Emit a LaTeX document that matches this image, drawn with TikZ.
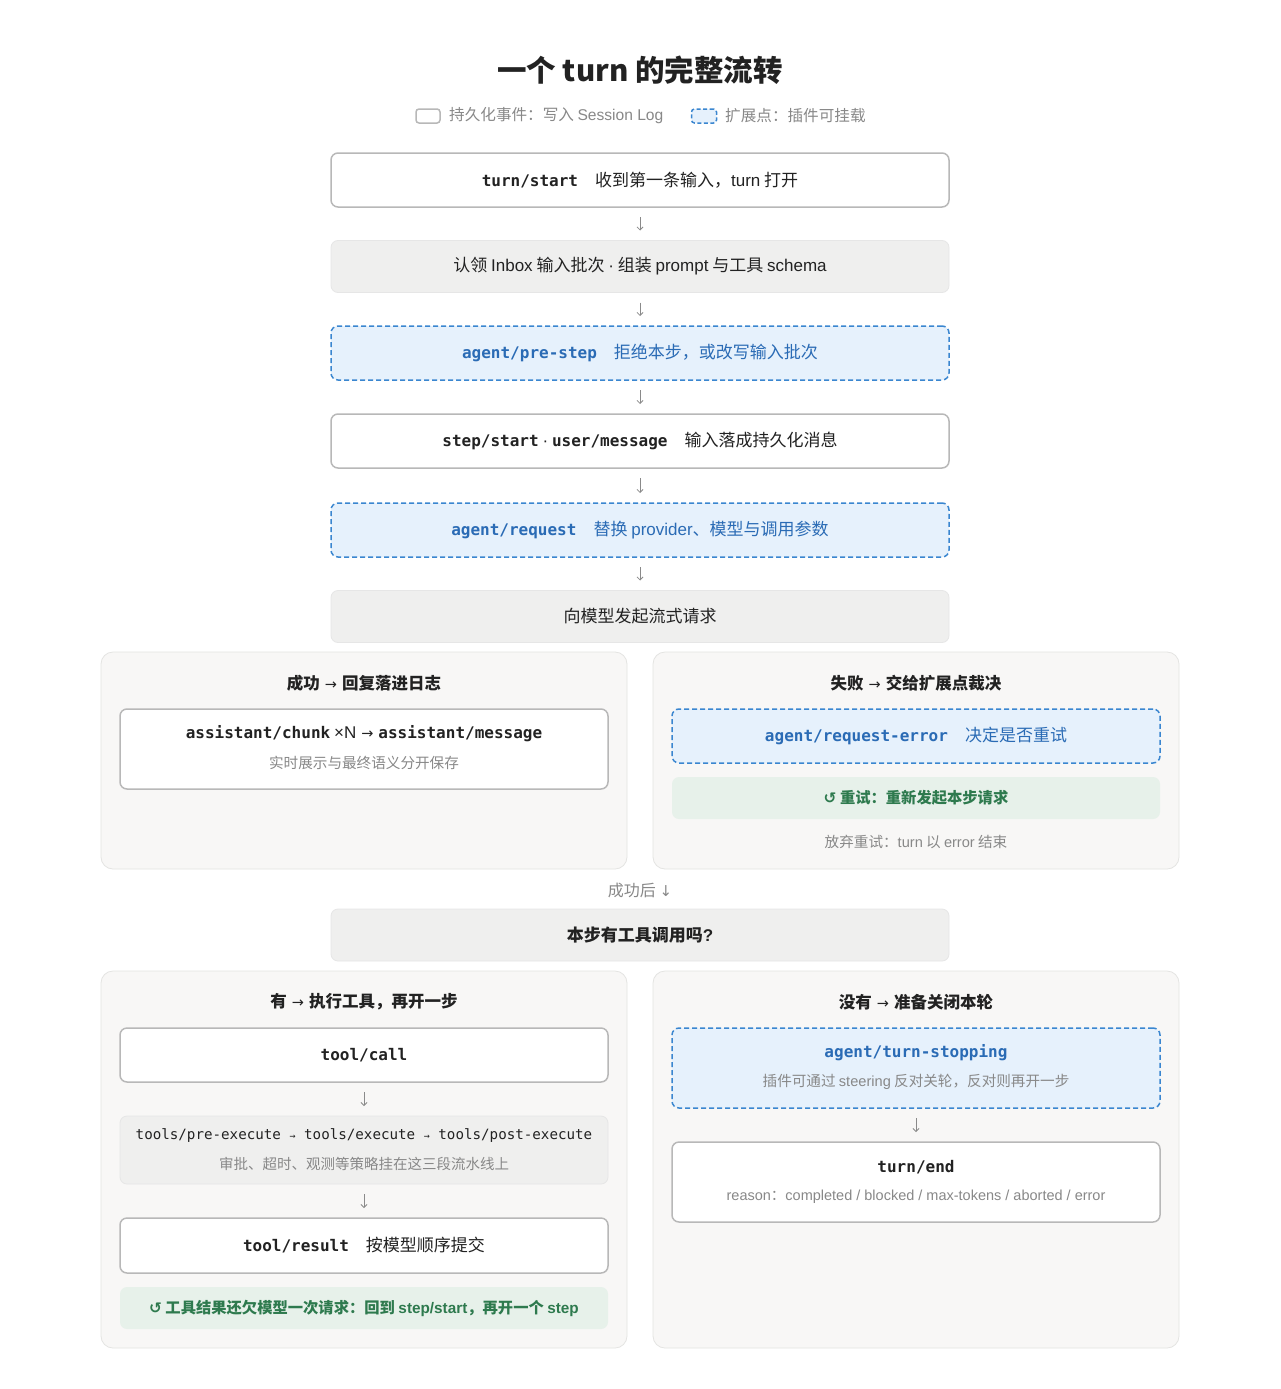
\documentclass[tikz,border=0pt]{standalone}
\usepackage{fontspec}
\setmainfont{Noto Sans CJK SC}
\newfontfamily\en{Liberation Sans}
\newfontfamily\mono{DejaVu Sans Mono}
\newfontfamily\sym{DejaVu Sans}
\usetikzlibrary{arrows.meta}
\newcommand\fsz[1]{\fontsize{#1}{#1}\selectfont}
\newcommand\code[1]{{\mono\bfseries\fsz{16}#1}}
\newcommand\ar{\hspace{5pt}{\sym\mdseries\fsz{14.5}→}\hspace{5pt}}
\definecolor{ctext}{HTML}{222222}
\definecolor{cgraytext}{HTML}{888888}
\definecolor{cborder}{HTML}{B8B8B8}
\definecolor{cgrayfill}{HTML}{EFEFEE}
\definecolor{cgrayline}{HTML}{E6E6E6}
\definecolor{cblue}{HTML}{3A86D0}
\definecolor{cbluefill}{HTML}{E6F1FC}
\definecolor{cbluetext}{HTML}{2A6BB5}
\definecolor{cgreen}{HTML}{2E7A4E}
\definecolor{cgreenfill}{HTML}{E7F1EA}
\definecolor{cpanel}{HTML}{F8F7F6}
\definecolor{cpanelline}{HTML}{E4E4E2}
\definecolor{carrow}{HTML}{8A8A8A}
\tikzset{
  base/.style={inner sep=0pt, outer sep=0pt, rounded corners=7pt, text=ctext, font=\fsz{17}},
  pbox/.style={base, draw=cborder, line width=1.5pt, fill=white},
  gbox/.style={base, draw=cgrayline, line width=0.8pt, fill=cgrayfill},
  ebox/.style={base, draw=cblue, line width=1.5pt, dash pattern=on 5pt off 3pt, fill=cbluefill, text=cbluetext},
  greenbox/.style={base, fill=cgreenfill, text=cgreen, font=\fsz{15.3}\bfseries},
  panel/.style={inner sep=0pt, outer sep=0pt, rounded corners=12pt, draw=cpanelline, line width=0.8pt, fill=cpanel},
  maincol/.style={minimum width=618pt},
  innercol/.style={minimum width=488pt},
  ptitle/.style={inner sep=0pt, text=ctext, font=\fsz{16.5}\bfseries},
  subtext/.style={inner sep=0pt, text=cgraytext, font=\fsz{14.6}},
  lbl/.style={inner sep=0pt, anchor=center},
  flow/.style={draw=carrow, line width=0.8pt, -{Straight Barb[length=3pt,width=6pt]}, shorten <=10pt, shorten >=10pt},
}
\begin{document}
\begin{tikzpicture}[x=1pt,y=-1pt]
\useasboundingbox[fill=white] (0,0) rectangle (1280,1389);

% title
\node[inner sep=0pt, text=ctext, font=\fsz{29.5}\bfseries] (title) at (640,70) {一个 turn 的完整流转};

% legend
\node[base, draw=cborder, line width=1.5pt, fill=white, rounded corners=3pt, minimum width=24pt, minimum height=14pt] (legP) at (428,116) {};
\node[inner sep=0pt, anchor=west, text=cgraytext, font=\fsz{15.6}] (legPt) at (449,116) {持久化事件：写入 {\en Session Log}};
\node[base, draw=cblue, line width=1.5pt, dash pattern=on 4pt off 2.5pt, fill=cbluefill, rounded corners=3pt, minimum width=25pt, minimum height=14pt] (legE) at (704,116) {};
\node[inner sep=0pt, anchor=west, text=cgraytext, font=\fsz{15.6}] (legEt) at (725,116) {扩展点：插件可挂载};

% main column
\node[pbox, maincol, minimum height=54pt] (b1) at (640,180) {\code{turn/start}\hspace{17pt}收到第一条输入，{\en turn} 打开};
\node[gbox, maincol, minimum height=52pt] (b2) at (640,266.5) {认领 {\en Inbox} 输入批次 {\en ·} 组装 {\en prompt} 与工具 {\en schema}};
\node[ebox, maincol, minimum height=54pt] (b3) at (640,353) {\code{agent/pre-step}\hspace{17pt}拒绝本步，或改写输入批次};
\node[pbox, maincol, minimum height=54pt] (b4) at (640,441) {\code{step/start} {\en ·} \code{user/message}\hspace{17pt}输入落成持久化消息};
\node[ebox, maincol, minimum height=54pt] (b5) at (640,530) {\code{agent/request}\hspace{17pt}替换 {\en provider}、模型与调用参数};
\node[gbox, maincol, minimum height=52pt] (b6) at (640,616.5) {向模型发起流式请求};

\draw[flow] (b1) -- (b2);
\draw[flow] (b2) -- (b3);
\draw[flow] (b3) -- (b4);
\draw[flow] (b4) -- (b5);
\draw[flow] (b5) -- (b6);

% success / failure panels
\node[panel, minimum width=526pt, minimum height=217pt] (pS) at (364,760.5) {};
\node[panel, minimum width=526pt, minimum height=217pt] (pF) at (916,760.5) {};

\node[ptitle] (pSt) at (364,683) {成功\ar 回复落进日志};
\node[pbox, innercol, minimum height=80pt] (sbox) at (364,749) {};
\node[lbl, font=\fsz{17}, text=ctext] (sboxa) at (364,734) {\code{assistant/chunk} {\en ×N}\ar\code{assistant/message}};
\node[subtext] (sboxb) at (364,763) {实时展示与最终语义分开保存};

\node[ptitle] (pFt) at (916,683) {失败\ar 交给扩展点裁决};
\node[ebox, innercol, minimum height=54pt] (fbox) at (916,736) {\code{agent/request-error}\hspace{17pt}决定是否重试};
\node[greenbox, innercol, minimum height=42pt] (fretry) at (916,798) {{\sym\bfseries ↺} 重试：重新发起本步请求};
\node[subtext] (fgive) at (916,842) {放弃重试：{\en turn} 以 {\en error} 结束};

% after success
\node[inner sep=0pt, text=cgraytext, font=\fsz{16}] (after) at (640,890) {成功后 {\sym\fsz{15}↓}};
\node[gbox, maincol, minimum height=52pt, font=\fsz{17}\bfseries] (dec) at (640,935) {本步有工具调用吗{\en ?}};

% bottom panels
\node[panel, minimum width=526pt, minimum height=377pt] (pY) at (364,1159.5) {};
\node[panel, minimum width=526pt, minimum height=377pt] (pN) at (916,1159.5) {};

\node[ptitle] (pYt) at (364,1002) {有\ar 执行工具，再开一步};
\node[pbox, innercol, minimum height=54pt] (tcall) at (364,1055) {\code{tool/call}};
\node[gbox, innercol, minimum height=68pt] (texec) at (364,1150) {};
\node[lbl, font=\fsz{14.2}\mono, text=ctext] (texeca) at (364,1136) {tools/pre-execute {\fsz{10}→} tools/execute {\fsz{10}→} tools/post-execute};
\node[subtext, font=\fsz{14.5}] (texecb) at (364,1164) {审批、超时、观测等策略挂在这三段流水线上};
\node[pbox, innercol, minimum height=55pt] (tres) at (364,1245.5) {\code{tool/result}\hspace{17pt}按模型顺序提交};
\node[greenbox, innercol, minimum height=42pt] (tloop) at (364,1308) {{\sym\bfseries ↺} 工具结果还欠模型一次请求：回到 {\en\bfseries step/start}，再开一个 {\en\bfseries step}};

\draw[flow] (tcall) -- (texec);
\draw[flow] (texec) -- (tres);

\node[ptitle] (pNt) at (916,1002) {没有\ar 准备关闭本轮};
\node[ebox, innercol, minimum height=80pt] (stop) at (916,1068) {};
\node[lbl, text=cbluetext] (stopa) at (916,1053) {\code{agent/turn-stopping}};
\node[subtext] (stopb) at (916,1082) {插件可通过 {\en steering} 反对关轮，反对则再开一步};
\node[pbox, innercol, minimum height=80pt] (tend) at (916,1182) {};
\node[lbl, text=ctext] (tenda) at (916,1167) {\code{turn/end}};
\node[subtext, font=\fsz{14.5}] (tendb) at (916,1197) {{\en reason}：{\en completed / blocked / max-tokens / aborted / error}};

\draw[flow] (stop) -- (tend);
\end{tikzpicture}
\end{document}
